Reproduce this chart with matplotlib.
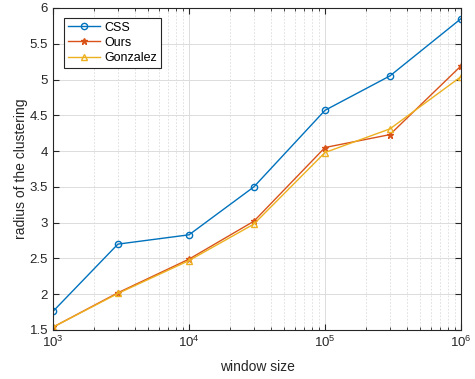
import matplotlib
matplotlib.use('Agg')
from matplotlib import pyplot as plt
from matplotlib.ticker import LogLocator, NullFormatter

plt.rcParams['font.family'] = ['Liberation Sans', 'DejaVu Sans']

# data
window = [1e3, 3e3, 1e4, 3e4, 1e5, 3e5, 1e6]
css = [1.76, 2.70, 2.83, 3.50, 4.57, 5.05, 5.85]
ours = [1.54, 2.02, 2.49, 3.02, 4.05, 4.23, 5.19]
gonzalez = [1.54, 2.01, 2.47, 2.98, 3.98, 4.31, 5.04]

fig = plt.figure(figsize=(4.75, 3.79), dpi=100)
ax = fig.add_axes([0.1116, 0.1293, 0.8589, 0.8497])

ax.plot(window, css, color='#0072BD', marker='o', ms=4.5, mfc='none', lw=1, label='CSS')
ax.plot(window, ours, color='#D95319', marker='*', ms=5, lw=1, label='Ours')
ax.plot(window, gonzalez, color='#EDB120', marker='^', ms=4.5, mfc='none', lw=1, label='Gonzalez')

ax.set_xscale('log')
ax.set_xlim(1e3, 1e6)
ax.set_ylim(1.5, 6)
ax.set_yticks([1.5, 2, 2.5, 3, 3.5, 4, 4.5, 5, 5.5, 6])
ax.set_yticklabels(['1.5', '2', '2.5', '3', '3.5', '4', '4.5', '5', '5.5', '6'])
ax.xaxis.set_minor_locator(LogLocator(base=10, subs=range(2, 10)))
ax.xaxis.set_minor_formatter(NullFormatter())

ax.grid(True, which='major', color='#dcdcdc', lw=0.7)
ax.grid(True, which='minor', axis='x', color='#dcdcdc', lw=0.6, ls=(0, (2, 2)))
ax.set_axisbelow(True)

ax.tick_params(which='both', direction='in', top=True, right=True, colors='#262626', labelsize=9.5)
ax.tick_params(which='major', length=4)
ax.tick_params(which='minor', length=2)
for s in ax.spines.values():
    s.set_color('#262626')
    s.set_linewidth(0.8)

ax.set_xlabel('window size', fontsize=10, color='#262626', labelpad=7)
ax.set_ylabel('radius of the clustering', fontsize=10, color='#262626', labelpad=1)

leg = ax.legend(loc='upper left', bbox_to_anchor=(0.027, 0.969), fancybox=False,
                edgecolor='#262626', fontsize=9, handlelength=2.6, borderpad=0.3,
                labelspacing=0.25, handletextpad=0.3, framealpha=1,
                borderaxespad=0)
leg.get_frame().set_linewidth(0.8)

fig.savefig('out.png', dpi=100)
